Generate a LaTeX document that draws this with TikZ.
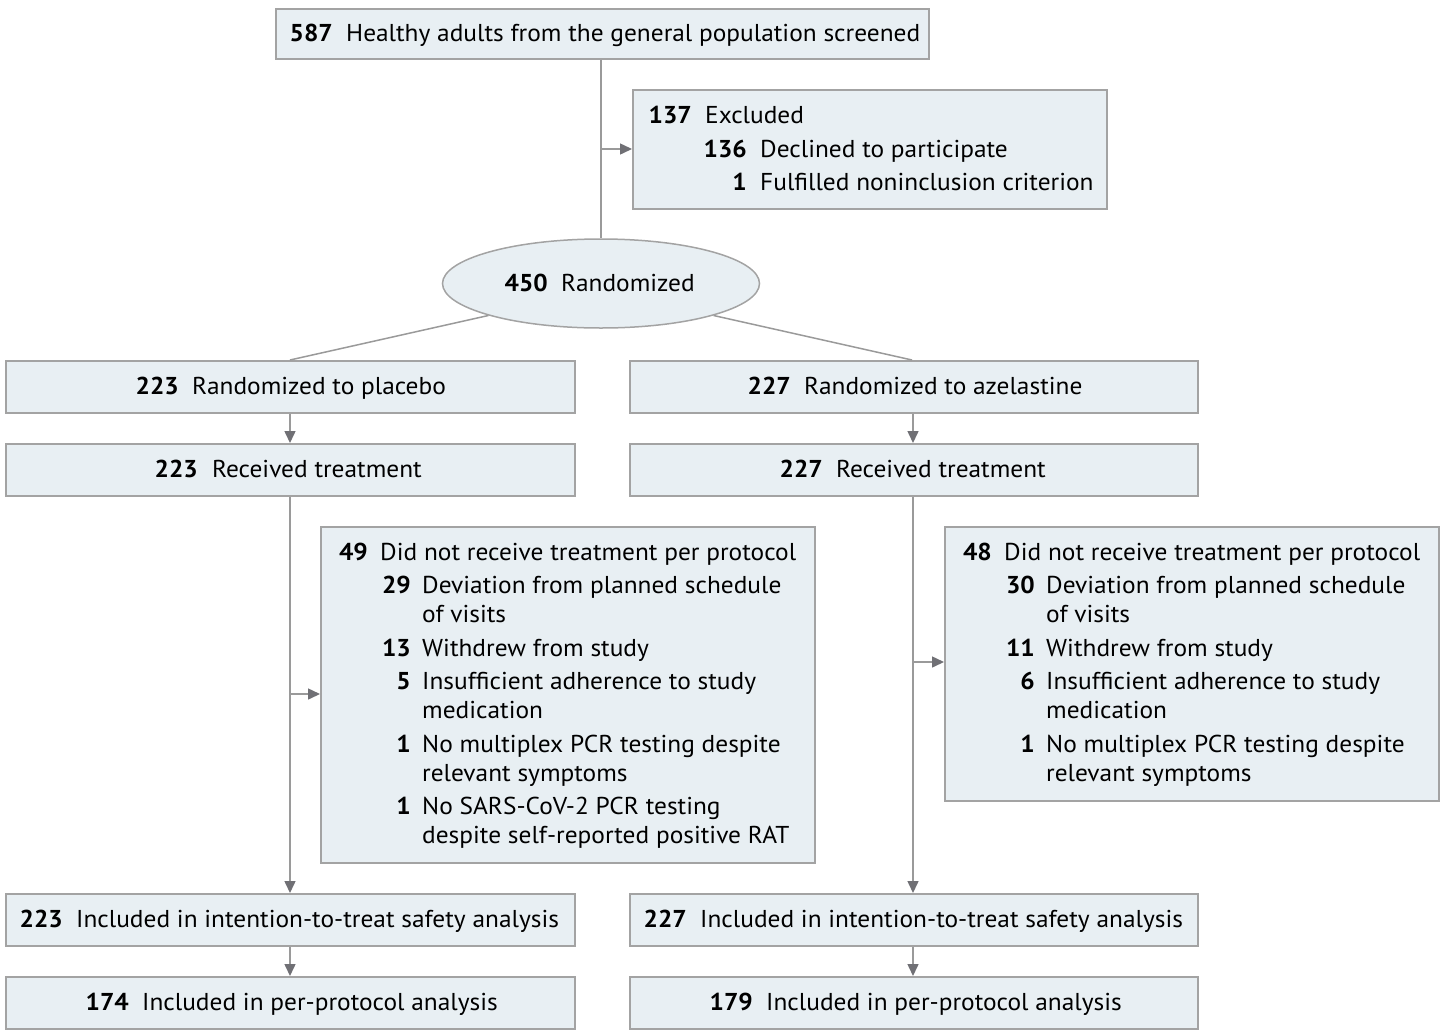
\documentclass[tikz,border=0pt]{standalone}
\usepackage{fontspec}
\setmainfont[FakeStretch=1.04]{PT Sans}
\usetikzlibrary{arrows.meta,shapes.geometric}
\definecolor{boxfill}{HTML}{E8EFF3}
\definecolor{boxline}{HTML}{A3A3A3}
\definecolor{conn}{HTML}{9A9A9A}
\definecolor{tipc}{HTML}{707075}
\tikzset{
  box/.style={draw=boxline,fill=boxfill,line width=1.5pt,inner sep=0pt},
  link/.style={draw=conn,line width=1.5pt},
  arr/.style={link,-{Triangle[length=12pt,width=11pt,fill=tipc,color=tipc]}},
  num/.style={anchor=base east,inner sep=0pt},
  txt/.style={anchor=base west,inner sep=0pt},
}
\newcommand{\ent}[6]{%
  \node[num] (#1n) at (#2,#4+8) {\bfseries #5};
  \node[txt] (#1t) at (#3,#4+8) {#6};}
\begin{document}
\begin{tikzpicture}[x=1pt,y=-1pt,font=\fontsize{24.4}{28}\selectfont]
\useasboundingbox (0,0) rectangle (1444,1034);
% boxes
\node[box,minimum width=653,minimum height=50,anchor=north west] (top) at (275,8) {};
\node[box,minimum width=474,minimum height=119,anchor=north west] (excl) at (632,89) {};
\node[box,ellipse,minimum width=317,minimum height=89] (rand) at (601,283.5) {};
\node[box,minimum width=569,minimum height=52,anchor=north west] (plac) at (5,360) {};
\node[box,minimum width=568,minimum height=52,anchor=north west] (azel) at (629,360) {};
\node[box,minimum width=569,minimum height=52,anchor=north west] (recL) at (5,443) {};
\node[box,minimum width=568,minimum height=52,anchor=north west] (recR) at (629,443) {};
\node[box,minimum width=494,minimum height=336,anchor=north west] (devL) at (320,526) {};
\node[box,minimum width=494,minimum height=274,anchor=north west] (devR) at (944,526) {};
\node[box,minimum width=569,minimum height=52,anchor=north west] (ittL) at (5,893) {};
\node[box,minimum width=568,minimum height=52,anchor=north west] (ittR) at (629,893) {};
\node[box,minimum width=569,minimum height=52,anchor=north west] (ppL) at (5,976) {};
\node[box,minimum width=568,minimum height=52,anchor=north west] (ppR) at (629,976) {};
% connectors
\coordinate (jx) at (601,149);
\coordinate (jl) at (290,694);
\coordinate (jr) at (913,662);
\coordinate (pl) at (290,360);
\coordinate (pr) at (912,360);
\draw[link] (top.south -| jx) -- (rand.north);
\draw[arr] (jx) -- (excl.west |- jx);
\draw[link] (rand.south west) -- (pl);
\draw[link] (rand.south east) -- (pr);
\draw[arr] (plac.south -| jl) -- (recL.north -| jl);
\draw[arr] (azel.south -| jr) -- (recR.north -| jr);
\draw[arr] (recL.south -| jl) -- (ittL.north -| jl);
\draw[arr] (recR.south -| jr) -- (ittR.north -| jr);
\draw[arr] (jl) -- (devL.west |- jl);
\draw[arr] (jr) -- (devR.west |- jr);
\draw[arr] (ittL.south -| jl) -- (ppL.north -| jl);
\draw[arr] (ittR.south -| jr) -- (ppR.north -| jr);
% texts
\ent{a}{333}{346}{33}{587}{Healthy adults from the general population screened}
\ent{b}{692}{705}{115}{137}{Excluded}
\ent{c}{747}{760}{149}{136}{Declined to participate}
\ent{d}{747}{760}{182}{1}{Fulfilled noninclusion criterion}
\ent{e}{548}{561}{283}{450}{Randomized}
\ent{f}{179}{192}{386}{223}{Randomized to placebo}
\ent{g}{791}{804}{386}{227}{Randomized to azelastine}
\ent{h}{198}{212}{469}{223}{Received treatment}
\ent{i}{823}{836}{469}{227}{Received treatment}
% left deviations
\ent{la}{368}{380}{552}{49}{Did not receive treatment per protocol}
\ent{lb}{411}{422}{585}{29}{Deviation from planned schedule}
\node[txt] (lb2) at (422,622) {of visits};
\ent{lc}{411}{422}{648}{13}{Withdrew from study}
\ent{ld}{411}{422}{681}{5}{Insufficient adherence to study}
\node[txt] (ld2) at (422,718) {medication};
\ent{le}{411}{422}{744}{1}{No multiplex PCR testing despite}
\node[txt] (le2) at (422,781) {relevant symptoms};
\ent{lf}{411}{422}{806}{1}{No SARS-CoV-2 PCR testing}
\node[txt] (lf2) at (422,843) {despite self-reported positive RAT};
% right deviations
\ent{ra}{992}{1004}{552}{48}{Did not receive treatment per protocol}
\ent{rb}{1035}{1046}{585}{30}{Deviation from planned schedule}
\node[txt] (rb2) at (1046,622) {of visits};
\ent{rc}{1035}{1046}{648}{11}{Withdrew from study}
\ent{rd}{1035}{1046}{681}{6}{Insufficient adherence to study}
\node[txt] (rd2) at (1046,718) {medication};
\ent{re}{1035}{1046}{744}{1}{No multiplex PCR testing despite}
\node[txt] (re2) at (1046,781) {relevant symptoms};
% bottom
\ent{j}{63}{76}{919}{223}{Included in intention-to-treat safety analysis}
\ent{k}{687}{700}{919}{227}{Included in intention-to-treat safety analysis}
\ent{l}{129}{142}{1002}{174}{Included in per-protocol analysis}
\ent{m}{753}{766}{1002}{179}{Included in per-protocol analysis}
\end{tikzpicture}
\end{document}
